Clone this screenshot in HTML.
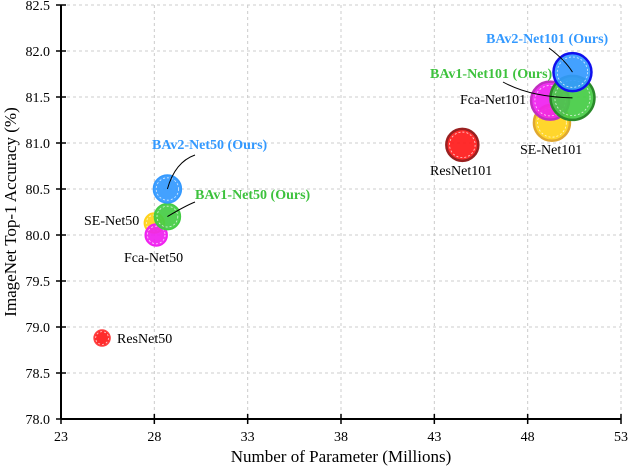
<!DOCTYPE html>
<html><head><meta charset="utf-8"><style>
body{margin:0;background:#fff}
svg{display:block;font-family:"Liberation Serif",serif}
</style></head><body>
<svg id="chart" width="628" height="466" viewBox="0 0 628 466" xmlns="http://www.w3.org/2000/svg"></svg>
<script>
const names=["ResNet50","SE-Net50","Fca-Net50","BAv1-Net50","BAv2-Net50","ResNet101","SE-Net101","Fca-Net101","BAv1-Net101","BAv2-Net101"];
const params=[25.2,28.0,28.1,28.7,28.7,44.5,49.3,49.2,50.4,50.4];
const accuracy=[78.88,80.13,80.0,80.2,80.5,80.98,81.22,81.46,81.49,81.77];
const sizes=[8,10,11,13,14,16,18,19,22,19];
const xTicks=[23,28,33,38,43,48,53];
const yTicks=[78.0,78.5,79.0,79.5,80.0,80.5,81.0,81.5,82.0,82.5];
const fills=["#ff1a1a","#ffd21a","#f020f0","#44cc44","#3399ff","#ff1a1a","#ffd21a","#f020f0","#44cc44","#3399ff"];
const strokes=["#ff4040","#ffd21a","#f020f0","#44cc44","#3399ff","#9a2020","#e0a830","#c030c0","#2a8a2a","#1010ee"];
const sx=v=>61+(v-23)*(560/30);
const sy=v=>5+(82.5-v)*92;
const s=document.getElementById('chart');
const NS="http://www.w3.org/2000/svg";
function mk(t,a,p){const e=document.createElementNS(NS,t);for(const k in a)e.setAttribute(k,a[k]);(p||s).appendChild(e);return e;}
xTicks.forEach(t=>{if(t>23){const l=mk('line',{x1:sx(t),x2:sx(t),y1:5,y2:419,stroke:'#ccc','stroke-dasharray':'3,3','stroke-width':1});

}});
yTicks.forEach(t=>{if(t>78){const l=mk('line',{x1:61,x2:621,y1:sy(t),y2:sy(t),stroke:'#ccc','stroke-dasharray':'3,3','stroke-width':1});

}});
const ax=mk('line',{x1:61,x2:621,y1:419,y2:419,stroke:'#000','stroke-width':2});


const ay=mk('line',{x1:61,x2:61,y1:5,y2:419,stroke:'#000','stroke-width':2});


xTicks.forEach(t=>{mk('line',{x1:sx(t),x2:sx(t),y1:414,y2:424,stroke:'#000','stroke-width':1.5});
const tx=mk('text',{x:sx(t),y:441,'text-anchor':'middle','font-size':14});tx.textContent=t;

});
yTicks.forEach(t=>{mk('line',{x1:56,x2:66,y1:sy(t),y2:sy(t),stroke:'#000','stroke-width':1.5});
const tx=mk('text',{x:50,y:sy(t)+5,'text-anchor':'end','font-size':14});tx.textContent=t.toFixed(1);

});
const xt=mk('text',{x:341,y:462,'text-anchor':'middle','font-size':17});xt.textContent="Number of Parameter (Millions)";


const yt=mk('text',{x:16,y:212,'text-anchor':'middle','font-size':17,transform:'rotate(-90 16 212)'});yt.textContent="ImageNet Top-1 Accuracy (%)";


const order=[0,1,2,3,4,5,6,7,8,9];
order.forEach(i=>{const cx=sx(params[i]),cy=sy(accuracy[i]),r=sizes[i];
const c=mk('circle',{cx,cy,r,fill:fills[i],'fill-opacity':0.92,stroke:strokes[i],'stroke-width':i>=5?2.5:1.5});


mk('circle',{cx,cy,r:r*0.8,fill:'none',stroke:'#fff','stroke-width':0.8,'stroke-dasharray':'2,2','stroke-opacity':0.8});});
function lab(i,x,y,txt,color,bold,anchor,line){
 if(line){mk('path',{d:line,fill:'none',stroke:'#000','stroke-width':1});}
 const t=mk('text',{x,y,'font-size':14,fill:color,'font-weight':bold?'bold':'normal','text-anchor':anchor||'start'});t.textContent=txt;
 
 
}
lab(0,117,343,"ResNet50","#000",false);
lab(1,84,225,"SE-Net50","#000",false);
lab(2,124,262,"Fca-Net50","#000",false);
lab(3,195,199,"BAv1-Net50 (Ours)","#3dc23d",true,'start',`M195,202 Q185,206 ${sx(params[3])},${sy(accuracy[3])}`);
lab(4,152,149,"BAv2-Net50 (Ours)","#3399ff",true,'start',`M195,155 Q175,162 ${sx(params[4])},${sy(accuracy[4])}`);
lab(5,430,175,"ResNet101","#000",false);
lab(6,520,154,"SE-Net101","#000",false);
lab(7,460,104,"Fca-Net101","#000",false);
lab(8,430,78,"BAv1-Net101 (Ours)","#3dc23d",true,'start',`M503,82 Q530,97 ${sx(params[8])},${sy(accuracy[8])}`);
lab(9,486,43,"BAv2-Net101 (Ours)","#3399ff",true,'start',`M549,48 Q565,60 ${sx(params[9])},${sy(accuracy[9])}`);
</script>
</body></html>
